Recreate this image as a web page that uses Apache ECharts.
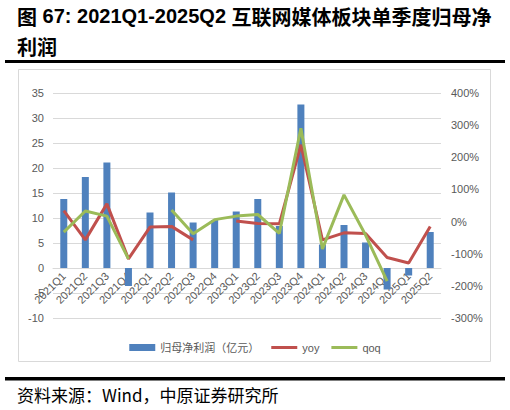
<!DOCTYPE html>
<html>
<head>
<meta charset="utf-8">
<script src="https://cdn.jsdelivr.net/npm/echarts@6/dist/echarts.min.js"></script>
<style>
html,body{margin:0;padding:0;background:#fff;}
#chart{width:510px;height:410px;}
</style>
</head>
<body>
<div id="chart"></div>
<script>
const categories = ['2021Q1','2021Q2','2021Q3','2021Q4','2022Q1','2022Q2','2022Q3','2022Q4','2023Q1','2023Q2','2023Q3','2023Q4','2024Q1','2024Q2','2024Q3','2024Q4','2025Q1','2025Q2'];
const netProfit = [13.8, 18.2, 21.1, -3.6, 11.1, 15.1, 9.1, 9.6, 11.3, 13.8, 8.4, 32.7, 4.7, 8.6, 5.1, -4.3, -1.5, 7.2];
const yoy = [34, -57, 55, -116, -17, -15, -57, null, 2, -6, -7, 239, -57, -35, -37, -112, -129, -15];
const qoq = [-33, 33, 17, -116, null, 36, -38, 6, 17, 22, -37, 290, -85, 83, -42, -185, null, null];
const leftTicks = {min: -10, max: 35, interval: 5};
const rightTicks = {min: -300, max: 400, interval: 100};
const titleText = '{c|图} {l|67: 2021Q1-2025Q2} {c|互联网媒体板块单季度归母净}\n{c|利润}';
const sourceText = '资料来源：Wind，中原证券研究所';
const seriesNames = ['归母净利润（亿元）', 'yoy', 'qoq'];

const FONT = '"Liberation Sans","Noto Sans CJK SC",sans-serif';
const axisText = {color: '#595959', fontSize: 11, fontFamily: FONT};

// grid geometry: x axis sits at the zero of the left axis
const gridTop = 93, gridBottomPx = 318;
const zeroOffset = -(gridBottomPx - gridTop) * (0 - leftTicks.min) / (leftTicks.max - leftTicks.min);

// legend line icon: a 3px stroke centred in a 7px tall box
const lineIcon = 'path://M0,0L0,0M0,7L0,7M0,2L26,2L26,5L0,5Z';

const chart = echarts.init(document.getElementById('chart'), null, {renderer: 'svg'});
chart.setOption({
  animation: false,
  textStyle: {fontFamily: FONT},
  graphic: [
    {type: 'text', left: 17, top: 1, style: {
      text: titleText, fill: '#000', lineHeight: 30,
      font: 'bold 20px "Liberation Sans","Noto Sans CJK SC",sans-serif',
      rich: {
        c: {fontFamily: '"Noto Sans CJK SC"', fontWeight: 'bold', fontSize: 20, lineHeight: 30, fill: '#000'},
        l: {fontFamily: '"Liberation Sans"', fontWeight: 'bold', fontSize: 20, lineHeight: 30, fill: '#000'}
      }
    }},
    {type: 'rect', shape: {x: 5, y: 60, width: 500, height: 3}, style: {fill: '#000'}},
    {type: 'rect', shape: {x: 18.5, y: 69.5, width: 472, height: 292}, style: {fill: 'none', stroke: '#d9d9d9', lineWidth: 1}, z: -1},
    {type: 'rect', shape: {x: 5, y: 377, width: 500, height: 3.5}, style: {fill: '#000'}},
    {type: 'text', left: 17, top: 386, style: {text: sourceText, font: '17px "Noto Sans CJK SC","Liberation Sans",sans-serif', fill: '#000'}}
  ],
  grid: {left: 53, right: 69, top: gridTop, bottom: 410 - gridBottomPx, containLabel: false},
  legend: {
    data: [
      {name: seriesNames[0], icon: 'rect'},
      {name: seriesNames[1], icon: lineIcon},
      {name: seriesNames[2], icon: lineIcon}
    ],
    left: 'center',
    top: 337,
    itemWidth: 26,
    itemHeight: 7,
    itemGap: 12,
    textStyle: {color: '#595959', fontSize: 11, fontFamily: FONT}
  },
  xAxis: {
    type: 'category',
    data: categories,
    position: 'bottom',
    offset: zeroOffset,
    axisLine: {onZero: false, lineStyle: {color: '#d9d9d9'}},
    axisTick: {show: false},
    axisLabel: Object.assign({rotate: 45, margin: 6, interval: 0}, axisText)
  },
  yAxis: [
    {
      type: 'value', min: leftTicks.min, max: leftTicks.max, interval: leftTicks.interval,
      position: 'left',
      axisLine: {show: false}, axisTick: {show: false},
      axisLabel: Object.assign({margin: 9}, axisText),
      splitLine: {lineStyle: {color: '#d9d9d9', width: 1}}
    },
    {
      type: 'value', min: rightTicks.min, max: rightTicks.max, interval: rightTicks.interval,
      position: 'right',
      axisLine: {show: false}, axisTick: {show: false},
      axisLabel: Object.assign({margin: 10, formatter: '{value}%'}, axisText),
      splitLine: {show: false}
    }
  ],
  series: [
    {
      name: seriesNames[0], type: 'bar', data: netProfit, yAxisIndex: 0,
      barWidth: 7, itemStyle: {color: '#4f81bd'}
    },
    {
      name: seriesNames[1], type: 'line', data: yoy, yAxisIndex: 1,
      symbol: 'none', connectNulls: false,
      lineStyle: {color: '#c0504d', width: 3}, itemStyle: {color: '#c0504d'}
    },
    {
      name: seriesNames[2], type: 'line', data: qoq, yAxisIndex: 1,
      symbol: 'none', connectNulls: false,
      lineStyle: {color: '#9bbb59', width: 3}, itemStyle: {color: '#9bbb59'}
    }
  ]
});
</script>
</body>
</html>
